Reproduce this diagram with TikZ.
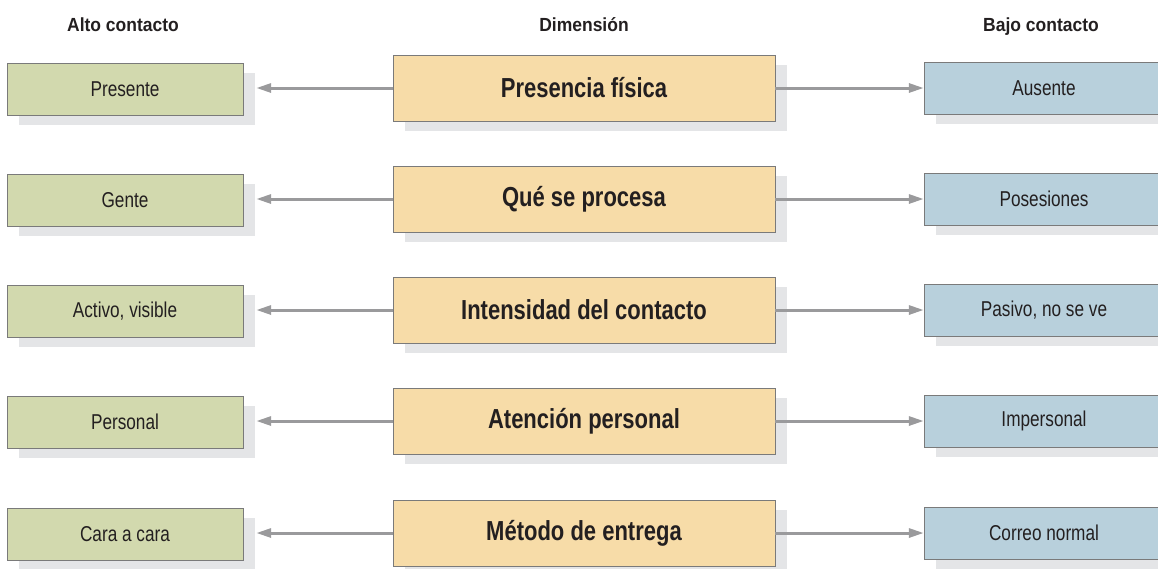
\documentclass[tikz,border=0pt]{standalone}
\usepackage{fontspec}
\setmainfont{Liberation Sans}[FakeStretch=0.8]
\newfontfamily\headfont{Liberation Sans}[FakeStretch=0.92]
\usepackage{xcolor}
\definecolor{ContactGreen}{HTML}{D2D9AE}
\definecolor{ContactSand}{HTML}{F7DCA8}
\definecolor{ContactBlue}{HTML}{B8D0DC}
\definecolor{ContactShade}{HTML}{E4E5E7}
\definecolor{ContactEdge}{HTML}{7A7A7A}
\definecolor{ContactArrow}{HTML}{9A9A9C}
\definecolor{ContactInk}{HTML}{231F20}
\usepackage{tikz}
\usetikzlibrary{positioning,arrows.meta,shadows}
\tikzset{
  cshadow/.style={drop shadow={shadow xshift=12pt,shadow yshift=-10pt,fill=ContactShade,opacity=1}},
  chigh/.style={draw=ContactEdge,fill=ContactGreen,cshadow,minimum width=236pt,minimum height=52pt,inner sep=0pt,font=\fontsize{21.5}{24}\selectfont,text=ContactInk},
  clow/.style={draw=ContactEdge,fill=ContactBlue,cshadow,minimum width=240pt,minimum height=52pt,inner sep=0pt,font=\fontsize{21.5}{24}\selectfont,text=ContactInk},
  cdim/.style={draw=ContactEdge,fill=ContactSand,cshadow,minimum width=382pt,minimum height=66pt,inner sep=0pt,font=\fontsize{27.5}{30}\selectfont\bfseries,text=ContactInk},
  chead/.style={anchor=base,font=\fontsize{19}{22}\selectfont\headfont\bfseries,text=ContactInk},
  cflow/.style={-{Triangle[length=15pt,width=9pt]},draw=ContactArrow,line width=3pt}
}
\begin{document}
\begin{tikzpicture}[x=1pt,y=1pt]
  \clip (0,0) rectangle (1158,-568);
  \useasboundingbox (0,0) rectangle (1158,-568);
  % column heads
  \node[chead] (hhigh) at (123,-31.5) {Alto contacto};
  \node[chead] (hdim) at (584,-31.5) {Dimensión};
  \node[chead] (hlow) at (1041,-31.5) {Bajo contacto};
  % dimensions
  \node[cdim] (dim1) at (584,-88) {Presencia física};
  \node[cdim] (dim2) at (584,-199) {Qué se procesa};
  \node[cdim] (dim3) at (584,-310) {Intensidad del contacto};
  \node[cdim] (dim4) at (584,-421) {Atención personal};
  \node[cdim] (dim5) at (584,-533) {Método de entrega};
  % high contact side
  \node[chigh] (high1) at (125,-89) {Presente};
  \node[chigh] (high2) at (125,-200) {Gente};
  \node[chigh] (high3) at (125,-311) {Activo, visible};
  \node[chigh] (high4) at (125,-422) {Personal};
  \node[chigh] (high5) at (125,-534) {Cara a cara};
  % low contact side
  \node[clow] (low1) at (1044,-88) {Ausente};
  \node[clow] (low2) at (1044,-199) {Posesiones};
  \node[clow] (low3) at (1044,-310) {Pasivo, no se ve};
  \node[clow] (low4) at (1044,-421) {Impersonal};
  \node[clow] (low5) at (1044,-533) {Correo normal};
  % arrows
  \draw[cflow] (dim1.west) -- ([xshift=13pt]high1.east |- dim1.west);
  \draw[cflow] (dim2.west) -- ([xshift=13pt]high2.east |- dim2.west);
  \draw[cflow] (dim3.west) -- ([xshift=13pt]high3.east |- dim3.west);
  \draw[cflow] (dim4.west) -- ([xshift=13pt]high4.east |- dim4.west);
  \draw[cflow] (dim5.west) -- ([xshift=13pt]high5.east |- dim5.west);
  \draw[cflow] (dim1.east) -- (low1.west);
  \draw[cflow] (dim2.east) -- (low2.west);
  \draw[cflow] (dim3.east) -- (low3.west);
  \draw[cflow] (dim4.east) -- (low4.west);
  \draw[cflow] (dim5.east) -- (low5.west);
\end{tikzpicture}
\end{document}
